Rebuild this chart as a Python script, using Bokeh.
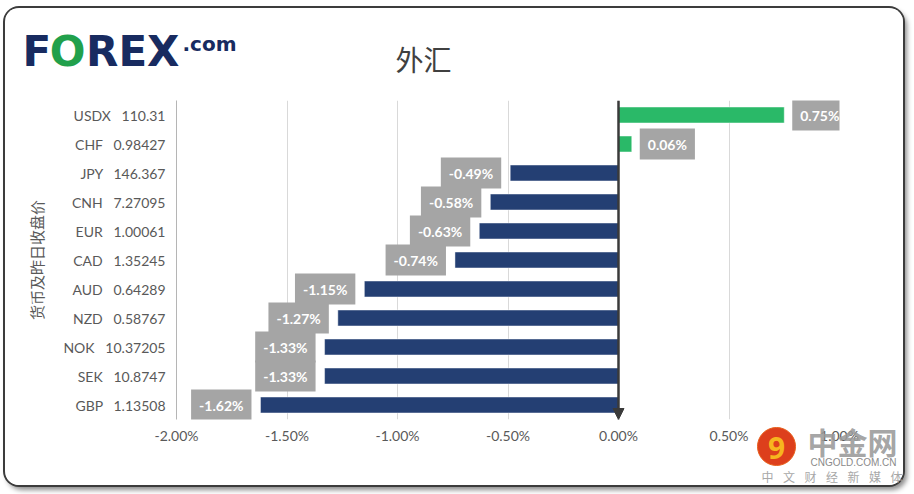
from bokeh.plotting import figure
from bokeh.models import (ColumnDataSource, FixedTicker, PrintfTickFormatter,
                          Arrow, NormalHead, Range1d, FactorRange)
from bokeh.embed import file_html
from bokeh.resources import INLINE
from bokeh.core.properties import value

# ---------------- data ----------------
currencies = ["USDX", "CHF", "JPY", "CNH", "EUR", "CAD", "AUD", "NZD", "NOK", "SEK", "GBP"]
closes = ["110.31", "0.98427", "146.367", "7.27095", "1.00061", "1.35245",
          "0.64289", "0.58767", "10.37205", "10.8747", "1.13508"]
changes = [0.75, 0.06, -0.49, -0.58, -0.63, -0.74, -1.15, -1.27, -1.33, -1.33, -1.62]
x_ticks = [-2.0, -1.5, -1.0, -0.5, 0.0, 0.5, 1.0]
title_text = "外汇"
y_title = "货币及昨日收盘价"
logo_parts = ["F", "O", "REX"]
logo_suffix = ".com"
wm_name = "中金网"
wm_site = "CNGOLD.COM.CN"
wm_chars = ["中", "文", "财", "经", "新", "媒", "体"]

GAP = "\u00a0\u00a0\u00a0"
row_labels = [f"{c}{GAP}{v}" for c, v in zip(currencies, closes)]

# ---------------- layout ----------------
W, H = 898, 477
ML, MR, MT, MB = 171, 64, 92, 66
PAGE_X0, PAGE_Y0 = 5, 8

GREEN = "#2ab968"
NAVY = "#243f73"
TICK_COLOR = "#595959"
FONT = "Lato"
CJK = "Noto Sans CJK SC"

p = figure(width=W, height=H,
           y_range=FactorRange(factors=list(reversed(row_labels))),
           x_range=Range1d(x_ticks[0], x_ticks[-1]),
           output_backend="svg", toolbar_location=None,
           min_border_left=ML, min_border_right=MR,
           min_border_top=MT, min_border_bottom=MB)
p.styles = {"margin-left": f"{PAGE_X0}px",
            "margin-top": f"{PAGE_Y0}px",
            "border-radius": "14px",
            "overflow": "hidden",
            "box-shadow": "0 0 0 2px #3c3c3c, 3px 4px 5px 1px rgba(0,0,0,0.45)"}
p.outline_line_color = None
p.background_fill_color = "white"
p.border_fill_color = "white"

# x axis
p.xaxis.ticker = FixedTicker(ticks=x_ticks)
p.xaxis.formatter = PrintfTickFormatter(format="%.2f%%")
p.xaxis.axis_line_color = None
p.xaxis.major_tick_line_color = None
p.xaxis.minor_tick_line_color = None
p.xaxis.major_tick_in = 0
p.xaxis.major_tick_out = 0
p.xaxis.major_label_standoff = 7
p.xaxis.major_label_text_font = FONT
p.xaxis.major_label_text_font_size = "14px"
p.xaxis.major_label_text_color = TICK_COLOR

# y axis
p.yaxis.axis_line_color = "#b5b5b5"
p.yaxis.axis_line_width = 1
p.yaxis.major_tick_line_color = None
p.yaxis.minor_tick_line_color = None
p.yaxis.major_tick_in = 0
p.yaxis.major_tick_out = 0
p.yaxis.major_label_standoff = 11
p.yaxis.major_label_text_font = FONT
p.yaxis.major_label_text_font_size = "14px"
p.yaxis.major_label_text_color = TICK_COLOR
p.yaxis.axis_label = y_title
p.yaxis.axis_label_text_font = CJK
p.yaxis.axis_label_text_font_style = "normal"
p.yaxis.axis_label_text_font_size = "15px"
p.yaxis.axis_label_text_color = TICK_COLOR
p.yaxis.axis_label_standoff = 13

p.xgrid.grid_line_color = "#d9d9d9"
p.xgrid.grid_line_width = 1
p.ygrid.grid_line_color = None

# bars
src = ColumnDataSource(dict(
    row=row_labels,
    change=changes,
    color=[GREEN if v >= 0 else NAVY for v in changes],
))
p.hbar(y="row", left=0, right="change", height=0.55, source=src,
       fill_color="color", line_color="white", line_alpha=0.45, line_width=1)

# zero axis with arrow
p.add_layout(Arrow(x_start=0, x_end=0, y_start=len(currencies), y_end=0,
                   line_color="#3a3a3a", line_width=2.5,
                   end=NormalHead(size=11, fill_color="#3a3a3a", line_color="#3a3a3a")))

# value labels
pos = [i for i, v in enumerate(changes) if v >= 0]
neg = [i for i, v in enumerate(changes) if v < 0]
for idx, anchor, off in ((pos, "center_left", 8), (neg, "center_right", -9)):
    s = ColumnDataSource(dict(
        row=[row_labels[i] for i in idx],
        change=[changes[i] for i in idx],
        label=[f"{changes[i]:.2f}%" for i in idx],
    ))
    p.text(x="change", y="row", text="label", source=s,
           x_offset=off, anchor=anchor, text_align="center", text_baseline="middle",
           text_font=value(FONT), text_font_style="bold", text_font_size="14px",
           text_color="white", background_fill_color="#a5a5a5",
           padding=dict(left=8, right=8, top=7, bottom=7))

# ---------------- decoration overlay (logo, title, watermark) ----------------
deco = figure(width=W, height=H, x_range=Range1d(0, W), y_range=Range1d(H, 0),
              x_axis_type=None, y_axis_type=None, min_border=0,
              title_location=None,
              output_backend="svg", toolbar_location=None)
deco.outline_line_color = None
deco.background_fill_alpha = 0
deco.border_fill_alpha = 0
deco.grid.visible = False
deco.styles = {"position": "absolute", "left": f"{PAGE_X0}px", "top": f"{PAGE_Y0}px",
               "pointer-events": "none"}


def txt(px, py, text, font, size, color, style="normal", align="center",
        baseline="middle", alpha=1.0):
    deco.text(x=[px - PAGE_X0], y=[py - PAGE_Y0], text=[text],
              text_font=value(font), text_font_size=size, text_font_style=style,
              text_color=color, text_alpha=alpha,
              text_align=align, text_baseline=baseline)


# title
txt(423, 58, title_text, CJK, "28px", "#404040")

# FOREX.com logo
LOGO_NAVY = "#182b60"
txt(22, 51, logo_parts[0], "DejaVu Sans", "42px", LOGO_NAVY, style="bold",
    align="left", baseline="alphabetic")
txt(67, 51, logo_parts[1], "DejaVu Sans", "42px", "#21a04b", style="bold",
    align="center", baseline="alphabetic")
txt(179, 51, logo_parts[2], "DejaVu Sans", "42px", LOGO_NAVY, style="bold",
    align="right", baseline="alphabetic")
txt(182, 43, logo_suffix, "DejaVu Sans", "20px", LOGO_NAVY, style="bold",
    align="left", baseline="alphabetic")

# watermark
deco.scatter(x=[776 - PAGE_X0], y=[446 - PAGE_Y0], size=38, marker="circle",
             fill_color="#dd3f1c", line_color="#e8601c", line_width=1)
txt(776, 447, "9", "Noto Sans", "30px", "#f7b51f", style="bold")
txt(852, 440, wm_name, CJK, "30px", "#9a9a9a", style="bold", alpha=0.9)
txt(853, 462, wm_site, "Liberation Sans", "10px", "#8a8a8a")
for i, ch in enumerate(wm_chars):
    txt(767 + i * 21.5, 476, ch, CJK, "12px", "#a8a8a8")

open("out.html", "w").write(file_html([p, deco], INLINE))
